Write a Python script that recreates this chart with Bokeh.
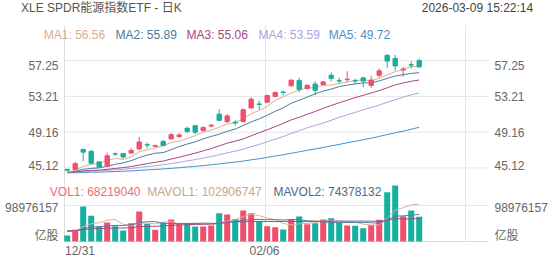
from bokeh.plotting import figure
from bokeh.models import Range1d, Label, ColumnDataSource
from bokeh.core.properties import value
from bokeh.embed import file_html
from bokeh.resources import INLINE

# ---------------- data ----------------
open_ = [44.95, 44.95, 47.20, 47.00, 45.80, 45.30, 46.72, 46.75, 46.80, 47.25,
         47.75, 47.55, 48.10, 48.40, 48.65, 49.60, 49.90, 49.35, 49.85, 51.20,
         50.35, 50.30, 50.35, 51.90, 52.35, 52.55, 53.20, 53.70, 54.40, 55.00,
         54.10, 54.60, 54.55, 55.60, 55.00, 55.10, 55.00, 55.30, 54.45, 55.60,
         57.85, 57.50, 56.20, 56.80, 57.25]
high = [45.00, 45.80, 47.30, 47.10, 45.85, 46.85, 46.85, 46.80, 47.35, 48.65,
        48.00, 47.75, 48.30, 49.05, 49.05, 49.80, 49.95, 49.80, 50.10, 51.75,
        51.20, 50.50, 51.85, 53.10, 52.75, 53.40, 53.75, 53.85, 55.10, 55.30,
        54.60, 54.90, 54.95, 55.90, 55.30, 56.05, 55.25, 55.45, 55.55, 56.35,
        58.00, 57.90, 56.55, 57.20, 57.50]
low = [44.75, 44.90, 45.85, 45.55, 45.10, 45.20, 46.50, 46.20, 46.75, 47.20,
       47.35, 47.50, 47.60, 48.35, 48.55, 49.05, 48.95, 49.20, 49.70, 50.45,
       50.20, 49.90, 50.30, 51.80, 51.70, 52.45, 53.10, 53.30, 54.35, 53.70,
       54.00, 53.35, 54.50, 54.90, 54.65, 54.85, 54.60, 54.25, 54.20, 55.30,
       56.45, 56.10, 55.45, 56.35, 56.40]
close = [44.85, 45.60, 46.90, 45.65, 45.20, 46.50, 46.68, 46.35, 47.10, 48.05,
         47.70, 47.65, 47.65, 48.88, 48.85, 49.25, 49.15, 49.70, 49.95, 50.50,
         51.00, 50.20, 51.70, 52.90, 52.30, 53.30, 53.65, 53.65, 55.05, 54.00,
         54.45, 53.90, 54.85, 55.25, 54.95, 55.15, 54.95, 54.95, 55.05, 56.10,
         57.20, 56.65, 56.30, 56.75, 56.56]

ma1 = [44.65, 44.85, 45.31, 45.52, 45.64, 45.97, 46.19, 46.08, 46.37, 46.94,
       47.18, 47.37, 47.63, 47.99, 48.15, 48.46, 48.76, 49.17, 49.38, 49.71,
       50.06, 50.27, 50.67, 51.26, 51.62, 52.08, 52.77, 53.16, 53.59, 53.93,
       54.16, 54.21, 54.45, 54.49, 54.68, 54.82, 55.03, 55.05, 55.01, 55.24,
       55.65, 55.99, 56.26, 56.60, 56.56]
ma2 = [44.63, 44.73, 44.96, 45.06, 45.12, 45.31, 45.52, 45.69, 45.94, 46.29,
       46.57, 46.78, 46.85, 47.18, 47.54, 47.82, 48.06, 48.40, 48.68, 48.93,
       49.26, 49.51, 49.92, 50.32, 50.67, 51.07, 51.52, 51.92, 52.43, 52.78,
       53.12, 53.49, 53.81, 54.04, 54.31, 54.49, 54.62, 54.75, 54.75, 54.96,
       55.24, 55.51, 55.66, 55.81, 55.89]
ma3 = [44.61, 44.66, 44.78, 44.83, 44.86, 44.96, 45.06, 45.15, 45.27, 45.44,
       45.60, 45.75, 45.90, 46.12, 46.33, 46.56, 46.79, 47.05, 47.31, 47.61,
       47.92, 48.15, 48.39, 48.75, 49.10, 49.44, 49.79, 50.16, 50.55, 50.85,
       51.19, 51.50, 51.86, 52.18, 52.49, 52.78, 53.07, 53.33, 53.59, 53.87,
       54.18, 54.50, 54.73, 54.92, 55.06]
ma4 = [44.61, 44.64, 44.72, 44.75, 44.77, 44.84, 44.91, 44.96, 45.05, 45.16,
       45.27, 45.37, 45.47, 45.61, 45.75, 45.91, 46.06, 46.23, 46.41, 46.61,
       46.82, 47.01, 47.24, 47.52, 47.78, 48.07, 48.37, 48.67, 49.02, 49.33,
       49.65, 49.93, 50.19, 50.51, 50.84, 51.13, 51.40, 51.69, 51.95, 52.22,
       52.54, 52.84, 53.13, 53.39, 53.59]
ma5 = [44.56, 44.57, 44.61, 44.63, 44.64, 44.67, 44.71, 44.74, 44.78, 44.84,
       44.89, 44.94, 45.00, 45.07, 45.14, 45.22, 45.29, 45.38, 45.47, 45.57,
       45.68, 45.77, 45.89, 46.03, 46.16, 46.30, 46.46, 46.61, 46.78, 46.94,
       47.11, 47.26, 47.43, 47.61, 47.78, 47.96, 48.13, 48.31, 48.48, 48.68,
       48.89, 49.09, 49.28, 49.49, 49.72]

# volumes in millions of shares
vol = [16.5, 32.0, 96.0, 70.6, 42.0, 52.0, 42.0, 30.0, 50.0, 82.5,
       48.6, 32.0, 52.0, 60.5, 48.6, 50.4, 41.0, 41.0, 44.0, 78.0,
       74.0, 62.0, 85.0, 78.0, 56.0, 42.0, 39.0, 33.0, 59.6, 68.7,
       47.6, 50.4, 60.5, 64.0, 53.0, 44.0, 43.0, 36.6, 46.0, 59.6,
       135.5, 154.0, 69.5, 85.0, 68.219040]
mavol1 = [27.3, 27.7, 40.9, 49.0, 51.4, 58.5, 60.5, 47.3, 43.2, 51.3,
          50.6, 48.6, 53.0, 55.1, 48.3, 48.7, 50.5, 48.3, 45.0, 50.9,
          55.6, 59.8, 68.6, 75.4, 71.0, 64.6, 60.0, 49.6, 45.9, 48.5,
          49.6, 51.9, 57.4, 58.2, 55.1, 54.4, 52.9, 48.1, 44.5, 45.8,
          64.1, 86.3, 92.9, 100.7, 102.9]
mavol2 = [28.7, 28.9, 35.5, 39.5, 40.7, 42.9, 44.1, 44.1, 46.1, 51.4,
          54.6, 54.6, 50.2, 49.2, 49.8, 49.7, 49.6, 50.7, 50.1, 49.6,
          52.2, 55.2, 58.5, 60.2, 60.9, 60.1, 59.9, 59.1, 60.7, 59.7,
          57.1, 55.9, 53.5, 52.1, 51.8, 52.0, 52.4, 52.7, 51.4, 50.5,
          59.3, 69.6, 70.5, 72.6, 74.4]
mavol3 = [29.3, 29.4, 32.7, 34.8, 35.4, 36.5, 37.1, 37.1, 38.1, 40.7,
          41.6, 41.7, 42.8, 44.3, 45.3, 46.3, 46.8, 47.4, 48.1, 50.5,
          53.4, 54.9, 54.3, 54.7, 55.4, 54.9, 54.7, 54.9, 55.4, 54.7,
          54.6, 55.5, 56.0, 56.1, 56.4, 56.0, 56.1, 55.9, 56.0, 55.1,
          58.2, 62.8, 62.0, 62.4, 63.0]

price_ticks = [57.25, 53.21, 49.16, 45.12]
price_tick_labels = ["57.25", "53.21", "49.16", "45.12"]
vol_tick_value = 98.976157
vol_tick_label = "98976157"
vol_unit_label = "亿股"
date_labels = ["12/31", "02/06"]

title_text = "XLE SPDR能源指数ETF - 日K"
time_text = "2026-03-09  15:22:14"
ma_names = ["MA1", "MA2", "MA3", "MA4", "MA5"]
ma_last = ["56.56", "55.89", "55.06", "53.59", "49.72"]
vol_legend = [("VOL1", "68219040"), ("MAVOL1", "102906747"), ("MAVOL2", "74378132")]

# ---------------- styling ----------------
RED = "#F0506E"
GREEN = "#14B19E"
MA_COLORS = ["#D8AE93", "#4A7C9C", "#A8457E", "#A6A6E2", "#4A90C4"]
VOL_COLORS = ["#EE6B7A", "#C9A58E", "#4D6B85"]
MAVOL_LINE = ["#D8B39D", "#4F7FA5", "#9A4F86"]
FONT = "Liberation Sans, Noto Sans CJK SC"
GRID = "#E6E6E6"
AXISLINE = "#DDDDDD"
LABEL = "#666666"

# chart-area bounds in data units (the frame covers the whole canvas)
PLOT_X0, PLOT_X1 = -0.3375, 52.6625       # left / right edge of the panels
PRICE_TOP, PRICE_BOTTOM = 61.229, 36.794  # top / bottom of the panels (price units)
VGRID = [24.79, 49.79]
LEFT_LABEL_X, RIGHT_LABEL_X = -1.0875, 53.4125
YLAB_POS = [56.76, 53.163, 49.125, 45.335, 40.584, 37.36]
XLAB_POS = [1.6, 24.66]
XLAB_Y = 35.663

idx = list(range(len(close)))
colors = [RED if c >= o else GREEN for o, c in zip(open_, close)]
src = ColumnDataSource(dict(
    x=idx, o=open_, h=high, l=low, c=close,
    top=[max(o, c) for o, c in zip(open_, close)],
    bot=[min(o, c) for o, c in zip(open_, close)],
    color=colors, vol=vol,
    ma1=ma1, ma2=ma2, ma3=ma3, ma4=ma4, ma5=ma5,
    mv1=mavol1, mv2=mavol2, mv3=mavol3,
))

p = figure(width=552, height=265,
           x_range=Range1d(-8.3375, 60.6625),
           y_range=Range1d(34.079, 64.057),
           x_axis_location=None, y_axis_location=None,
           output_backend="svg", toolbar_location=None,
           min_border=0, min_border_left=0, min_border_right=0,
           min_border_top=0, min_border_bottom=0,
           background_fill_color="white", border_fill_color="white",
           outline_line_color=None)
p.grid.visible = False
p.extra_y_ranges = {"vol": Range1d(-65.98, 662.58)}

# grid lines
p.segment(x0=PLOT_X0, x1=PLOT_X1, y0=price_ticks, y1=price_ticks,
          line_color=GRID, line_width=1)
p.segment(x0=VGRID, x1=VGRID, y0=PRICE_BOTTOM, y1=PRICE_TOP,
          line_color=GRID, line_width=1)
p.segment(x0=[PLOT_X0], x1=[PLOT_X1], y0=[vol_tick_value], y1=[vol_tick_value],
          line_color=GRID, line_width=1, y_range_name="vol")
# axis lines (left and bottom)
p.segment(x0=[PLOT_X0], x1=[PLOT_X0], y0=[PRICE_BOTTOM], y1=[PRICE_TOP],
          line_color=AXISLINE, line_width=1)
p.segment(x0=[PLOT_X0], x1=[PLOT_X1], y0=[0], y1=[0],
          line_color=AXISLINE, line_width=1, y_range_name="vol")

# axis labels
ylab_txt = price_tick_labels + [vol_tick_label, vol_unit_label]
p.text(x=[LEFT_LABEL_X] * len(YLAB_POS), y=YLAB_POS, text=ylab_txt,
       text_font=value(FONT), text_font_size="12px", text_color=LABEL,
       text_align="right", text_baseline="middle")
p.text(x=[RIGHT_LABEL_X] * len(YLAB_POS), y=YLAB_POS, text=ylab_txt,
       text_font=value(FONT), text_font_size="12px", text_color=LABEL,
       text_align="left", text_baseline="middle")
p.text(x=XLAB_POS, y=[XLAB_Y] * len(XLAB_POS), text=date_labels,
       text_font=value(FONT), text_font_size="12px", text_color=LABEL,
       text_align="center", text_baseline="middle")

# volume
p.vbar(x="x", top="vol", bottom=0, width=0.75, fill_color="color", line_color=None,
       source=src, y_range_name="vol")
for col, lc in zip(["mv1", "mv2", "mv3"], MAVOL_LINE):
    p.line("x", col, source=src, y_range_name="vol", line_color=lc, line_width=1)

# moving averages
for col, lc in zip(["ma5", "ma4", "ma3", "ma2", "ma1"], MA_COLORS[::-1]):
    p.line("x", col, source=src, line_color=lc, line_width=1)

# candles
p.segment(x0="x", y0="h", x1="x", y1="l", line_color="color", line_width=1, source=src)
p.vbar(x="x", top="top", bottom="bot", width=0.55, fill_color="color",
       line_color="color", line_width=1, source=src)

# header texts (screen units, origin at the canvas bottom-left)
def add_label(text, cx, cy, color, align="left"):
    p.add_layout(Label(x=cx, y=265 - cy, x_units="screen", y_units="screen",
                       text=text, text_font=FONT, text_font_size="12px",
                       text_color=color, text_baseline="middle", text_align=align))

add_label(title_text, 20.5, 7.5, "#555555")
add_label(time_text, 536, 7.5, "#444444", align="right")
for name, val, xpos, col in zip(ma_names, ma_last, [43.3, 115, 186, 258, 328.3], MA_COLORS):
    add_label(f"{name}: {val}", xpos, 34, col)
for (name, val), xpos, col in zip(vol_legend, [49.3, 146.7, 273], VOL_COLORS):
    add_label(f"{name}: {val}", xpos, 191.5, col)

open("out.html", "w").write(file_html(p, INLINE))
